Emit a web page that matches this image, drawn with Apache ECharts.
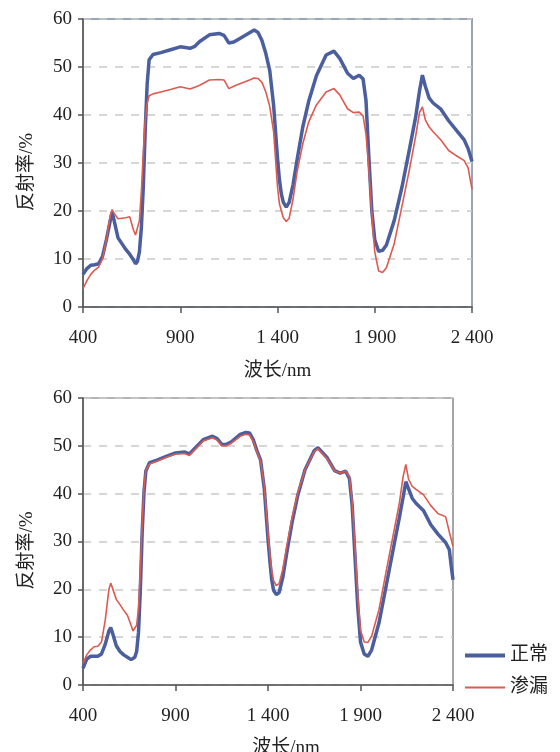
<!DOCTYPE html>
<html><head><meta charset="utf-8">
<script src="https://cdn.jsdelivr.net/npm/echarts@6/dist/echarts.min.js"></script>
<style>html,body{margin:0;padding:0;background:#fff}#c{width:560px;height:752px}</style>
</head><body><div id="c"></div>
<script>
const seriesNames = ['正常', '渗漏'];
const xTicks = [400, 900, 1400, 1900, 2400];
const xTickLabels = ['400', '900', '1 400', '1 900', '2 400'];
const yTicks = [0, 10, 20, 30, 40, 50, 60];
const xName = '波长/nm';
const yName = '反射率/%';

const wlTop = [400,420,440,460,480,500,520,540,550,560,580,600,620,640,660,670,680,690,700,710,720,730,740,760,800,850,900,950,975,1000,1050,1100,1125,1150,1175,1200,1250,1280,1300,1320,1340,1360,1380,1400,1410,1420,1430,1445,1460,1480,1500,1530,1560,1600,1650,1690,1720,1760,1790,1820,1840,1855,1870,1885,1900,1920,1940,1960,2000,2040,2080,2110,2130,2145,2160,2180,2200,2240,2280,2320,2360,2380,2400];
const normalTop = [6.8,8.0,8.7,8.8,9.0,10.5,14.0,18.0,19.8,18.0,14.4,13.2,12.0,11.0,9.8,9.0,9.5,11.5,16.5,25.0,37.0,46.5,51.5,52.6,53.0,53.6,54.2,53.9,54.3,55.3,56.7,57.0,56.6,55.0,55.2,55.8,57.0,57.7,57.2,55.5,52.8,49.3,42.0,31.0,26.5,23.5,21.8,20.8,21.8,25.5,30.5,37.5,42.8,48.2,52.5,53.3,51.8,48.7,47.6,48.3,47.5,43.0,31.0,20.0,14.0,11.6,11.8,12.9,18.0,25.0,33.2,39.5,45.0,48.3,46.0,43.5,42.5,41.2,38.8,36.8,34.8,33.0,30.3];
const leakTop = [3.8,5.5,6.8,7.7,8.3,10.0,14.0,19.0,20.3,19.5,18.4,18.5,18.6,18.8,16.0,15.0,14.7,18.0,24.0,32.0,39.0,42.5,44.0,44.4,44.8,45.3,45.9,45.4,45.8,46.2,47.3,47.4,47.3,45.5,46.0,46.4,47.2,47.7,47.6,46.8,44.8,41.8,36.5,25.0,21.5,20.0,18.6,17.8,18.5,22.5,28.0,34.0,38.5,42.1,44.8,45.5,44.2,41.3,40.5,40.6,39.8,36.0,28.5,19.2,11.5,7.5,7.2,8.2,13.2,21.0,29.0,35.5,40.5,41.7,39.0,37.5,36.5,34.8,32.6,31.5,30.5,29.0,24.5];

const wlBottom = [400,420,440,460,480,500,520,540,550,560,580,600,620,640,660,670,680,690,700,710,720,730,740,760,800,850,900,950,975,1000,1050,1100,1125,1150,1175,1200,1250,1280,1300,1320,1340,1360,1380,1400,1410,1420,1430,1445,1460,1480,1500,1530,1560,1600,1650,1670,1720,1760,1790,1820,1840,1855,1870,1885,1900,1920,1940,1960,2000,2040,2080,2110,2130,2145,2160,2180,2200,2240,2280,2320,2360,2380,2390,2400];
const normalBottom = [3.5,5.4,6.0,6.0,6.0,6.5,8.5,11.3,12.0,10.8,8.2,7.0,6.3,5.8,5.3,5.3,5.8,7.0,11.0,20.0,32.0,40.5,44.8,46.5,47.0,47.8,48.5,48.7,48.3,49.3,51.3,52.0,51.5,50.3,50.3,50.8,52.4,52.8,52.7,51.3,49.0,47.0,41.0,30.5,26.0,22.0,19.8,18.9,19.3,22.5,27.3,34.0,39.5,45.0,49.0,49.6,47.5,44.8,44.3,44.7,43.2,37.5,27.0,16.5,9.0,6.5,6.0,7.3,13.0,21.0,29.0,35.0,39.2,42.5,41.0,39.0,38.0,36.5,33.5,31.5,29.8,28.3,25.0,22.0];
const leakBottom = [4.5,6.3,7.3,8.0,8.1,9.0,13.5,20.0,21.3,20.2,17.9,16.8,15.6,14.6,12.5,11.3,11.2,12.5,16.0,24.0,34.0,41.5,45.0,46.2,46.8,47.6,48.3,48.4,48.0,49.0,51.0,51.7,51.2,50.0,50.0,50.5,52.0,52.4,52.3,51.0,48.8,46.8,41.5,32.0,27.5,24.0,21.8,20.8,21.2,24.2,28.7,35.0,40.0,45.0,48.8,49.4,47.3,44.8,44.3,44.7,43.5,38.5,29.0,19.0,11.5,9.0,8.9,10.2,15.8,24.0,32.0,38.0,43.5,46.1,43.0,41.5,40.9,39.8,37.5,35.8,35.2,32.0,30.5,29.0];

const FONT = "'Liberation Serif','Noto Sans CJK SC',serif";
const BLUE = '#4b5e9d';
const RED = '#dc5a50';
const pair = (xs, ys) => xs.map((x, i) => [x, ys[i]]);

function xAxis(gi, nameGap, namePad) {
  return {
    type: 'value', gridIndex: gi, min: xTicks[0], max: xTicks[xTicks.length - 1], interval: 500,
    name: xName, nameLocation: 'middle', nameGap: nameGap,
    nameTextStyle: { fontFamily: FONT, fontSize: 19, color: '#222', padding: namePad },
    axisLine: { show: true, lineStyle: { color: '#555', width: 1.5 } },
    axisTick: { show: true, inside: false, length: 6, lineStyle: { color: '#555', width: 1.5 } },
    axisLabel: { fontFamily: FONT, fontSize: 19, color: '#222', margin: 22,
      formatter: v => { const k = xTicks.indexOf(v); return k >= 0 ? xTickLabels[k] : ''; } },
    splitLine: { show: false }
  };
}
function yAxis(gi) {
  return {
    type: 'value', gridIndex: gi, min: yTicks[0], max: yTicks[yTicks.length - 1], interval: 10,
    name: yName, nameLocation: 'middle', nameGap: 46, nameRotate: 90,
    nameTextStyle: { fontFamily: FONT, fontSize: 19, color: '#222', padding: [0, 18, 0, 0] },
    axisLine: { show: true, lineStyle: { color: '#555', width: 1.5 } },
    axisTick: { show: true, inside: false, length: 5, lineStyle: { color: '#555', width: 1.5 } },
    axisLabel: { fontFamily: FONT, fontSize: 19, color: '#222', margin: 11 },
    splitLine: { show: true, lineStyle: { color: '#c9c9c9', width: 1.5, type: [8, 8] } }
  };
}

const chart = echarts.init(document.getElementById('c'), null, { renderer: 'canvas' });
chart.setOption({
  backgroundColor: '#fff',
  animation: false,
  grid: [
    { left: 83, top: 19, width: 389, height: 288, show: true, borderColor: '#9aa4b4', borderWidth: 2, backgroundColor: 'transparent', outerBoundsMode: 'none', containLabel: false },
    { left: 83, top: 398, width: 370, height: 287, show: true, borderColor: '#6a6a6a', borderWidth: 1.2, backgroundColor: 'transparent', outerBoundsMode: 'none', containLabel: false }
  ],
  xAxis: [xAxis(0, 55, [0, 0, 0, 0]), xAxis(1, 54, [0, 0, 0, 36])],
  yAxis: [yAxis(0), yAxis(1)],
  legend: [
    { data: [seriesNames[0]], orient: 'vertical', left: 460, top: 641, itemWidth: 40, itemHeight: 4, icon: 'rect', itemGap: 5,
      textStyle: { fontFamily: FONT, fontSize: 19, color: '#222' } },
    { data: [seriesNames[1]], orient: 'vertical', left: 460, top: 673, itemWidth: 40, itemHeight: 2, icon: 'rect', itemGap: 5,
      textStyle: { fontFamily: FONT, fontSize: 19, color: '#222' } }
  ],
  series: [
    { name: seriesNames[0], type: 'line', xAxisIndex: 0, yAxisIndex: 0, data: pair(wlTop, normalTop), showSymbol: false, lineStyle: { color: BLUE, width: 3.5 }, itemStyle: { color: BLUE } },
    { name: seriesNames[1], type: 'line', xAxisIndex: 0, yAxisIndex: 0, data: pair(wlTop, leakTop), showSymbol: false, lineStyle: { color: RED, width: 1.6 }, itemStyle: { color: RED } },
    { name: seriesNames[0], type: 'line', xAxisIndex: 1, yAxisIndex: 1, data: pair(wlBottom, normalBottom), showSymbol: false, lineStyle: { color: BLUE, width: 3.5 }, itemStyle: { color: BLUE } },
    { name: seriesNames[1], type: 'line', xAxisIndex: 1, yAxisIndex: 1, data: pair(wlBottom, leakBottom), showSymbol: false, lineStyle: { color: RED, width: 1.6 }, itemStyle: { color: RED } }
  ]
});
</script></body></html>
